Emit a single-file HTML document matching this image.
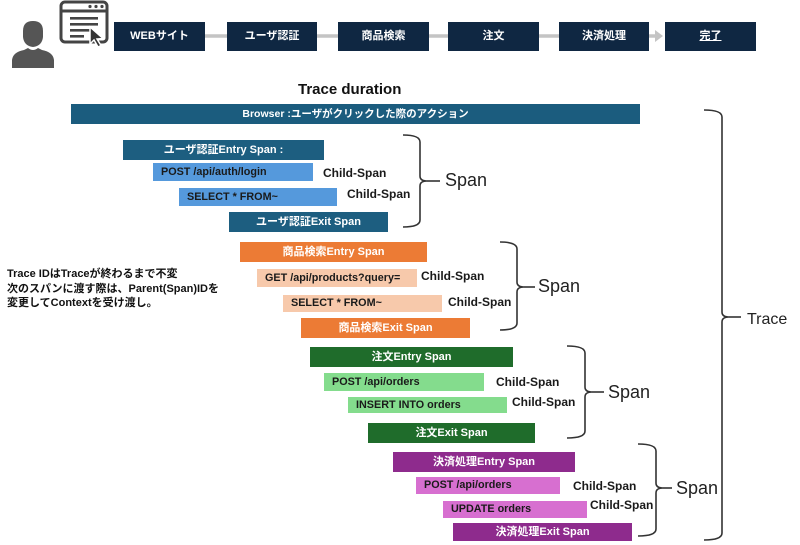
<!DOCTYPE html>
<html><head><meta charset="utf-8">
<style>
html,body{margin:0;padding:0;background:#fff;}
body{width:800px;height:545px;position:relative;overflow:hidden;font-family:"Liberation Sans","Noto Sans CJK JP",sans-serif;}
.b{position:absolute;box-sizing:border-box;font-weight:bold;font-size:11px;line-height:1;display:flex;align-items:center;white-space:nowrap;}
.c{justify-content:center;color:#fff;}
.l{padding-left:8px;color:#1a1a1a;font-size:10.8px;}
.top{background:#0f2742;color:#fff;justify-content:center;font-size:11px;}
.lab{position:absolute;font-weight:bold;font-size:12px;color:#1a1a1a;white-space:nowrap;line-height:1;}
.sp{position:absolute;font-size:18px;color:#222;line-height:1;white-space:nowrap;}
</style></head><body>

<svg width="800" height="545" style="position:absolute;left:0;top:0" xmlns="http://www.w3.org/2000/svg">
  <!-- person -->
  <g fill="#555">
    <path d="M23 31 Q23 21 33 21 Q43 21 43 31 L43 37 Q42 46 33 47 Q24 46 23 37 Z"/>
    <path d="M12 68 L12 60 Q13 52 24 50 L28 48 Q33 52 38 48 L42 50 Q53 52 54 60 L54 68 Z"/>
  </g>
  <!-- browser icon -->
  <g fill="none" stroke="#444" stroke-width="3">
    <rect x="61" y="2" width="46" height="40" rx="4"/>
    <line x1="61" y1="11" x2="107" y2="11"/>
  </g>
  <g fill="#444">
    <circle cx="90" cy="6.5" r="1.6"/><circle cx="96" cy="6.5" r="1.6"/><circle cx="102" cy="6.5" r="1.6"/>
    <rect x="70" y="17" width="28" height="2.6"/>
    <rect x="70" y="23" width="28" height="2.6"/>
    <rect x="70" y="29" width="20" height="2.6"/>
    <rect x="70" y="35" width="14" height="2.6"/>
  </g>
  <path d="M90 27 L90 44 L94 40 L98 47 L101 45.5 L97 39 L103 38.5 Z" fill="#333" stroke="#fff" stroke-width="1.5"/>
  <!-- connectors -->
  <g stroke="#c4c4c4" stroke-width="3.5">
    <line x1="205" y1="36" x2="227" y2="36"/>
    <line x1="317" y1="36" x2="338" y2="36"/>
    <line x1="429" y1="36" x2="448" y2="36"/>
    <line x1="539" y1="36" x2="559" y2="36"/>
    <line x1="649" y1="36" x2="656" y2="36"/>
  </g>
  <path d="M655 30 L663 36 L655 42 Z" fill="#c4c4c4"/>
  <!-- brackets -->
  <g fill="none" stroke="#333" stroke-width="1.6">
    <path d="M403 135 Q420 135 420 142 L420 176 Q420 181 427 181 Q420 181 420 186 L420 220 Q420 227 403 227"/>
    <line x1="427" y1="181" x2="440" y2="181"/>
    <path d="M500 242 Q517 242 517 249 L517 282 Q517 287 524 287 Q517 287 517 292 L517 323 Q517 330 500 330"/>
    <line x1="524" y1="287" x2="535" y2="287"/>
    <path d="M567 346 Q585 346 585 353 L585 387 Q585 392 592 392 Q585 392 585 397 L585 431 Q585 438 567 438"/>
    <line x1="592" y1="392" x2="604" y2="392"/>
    <path d="M638 444 Q656 444 656 451 L656 483 Q656 488 663 488 Q656 488 656 493 L656 529 Q656 536 638 536"/>
    <line x1="663" y1="488" x2="672" y2="488"/>
    <path d="M704 110 Q722 110 722 117 L722 312 Q722 317 729 317 Q722 317 722 322 L722 533 Q722 540 704 540"/>
    <line x1="729" y1="317" x2="741" y2="317"/>
  </g>
</svg>

<!-- top flow -->
<div class="b top" style="left:114px;top:22px;width:91px;height:29px;">WEBサイト</div>
<div class="b top" style="left:227px;top:22px;width:90px;height:29px;">ユーザ認証</div>
<div class="b top" style="left:338px;top:22px;width:91px;height:29px;">商品検索</div>
<div class="b top" style="left:448px;top:22px;width:91px;height:29px;">注文</div>
<div class="b top" style="left:559px;top:22px;width:90px;height:29px;">決済処理</div>
<div class="b top" style="left:665px;top:22px;width:91px;height:29px;"><span style="text-decoration:underline">完了</span></div>

<div style="position:absolute;left:298px;top:81px;font-weight:bold;font-size:15px;color:#111;white-space:nowrap;">Trace duration</div>

<div class="b c" style="left:71px;top:104px;width:569px;height:20px;background:#1b5c7e;font-size:10.5px;">Browser :ユーザがクリックした際のアクション</div>

<!-- span 1 -->
<div class="b c" style="left:123px;top:140px;width:201px;height:20px;background:#1d5e80;">ユーザ認証Entry Span :</div>
<div class="b l" style="left:153px;top:163px;width:160px;height:18px;background:#5599dc;">POST /api/auth/login</div>
<div class="lab" style="left:323px;top:167px;">Child-Span</div>
<div class="b l" style="left:179px;top:188px;width:158px;height:18px;background:#5599dc;">SELECT * FROM~</div>
<div class="lab" style="left:347px;top:188px;">Child-Span</div>
<div class="b c" style="left:229px;top:212px;width:159px;height:20px;background:#1d5e80;">ユーザ認証Exit Span</div>
<div class="sp" style="left:445px;top:171px;">Span</div>

<!-- side text -->
<div style="position:absolute;left:7px;top:267px;font-weight:bold;font-size:11px;line-height:14.5px;color:#111;white-space:nowrap;">Trace IDはTraceが終わるまで不変<br>次のスパンに渡す際は、Parent(Span)IDを<br>変更してContextを受け渡し。</div>

<!-- span 2 -->
<div class="b c" style="left:240px;top:242px;width:187px;height:20px;background:#ec7b35;">商品検索Entry Span</div>
<div class="b l" style="left:257px;top:269px;width:160px;height:18px;background:#f7c9ab;">GET /api/products?query=</div>
<div class="lab" style="left:421px;top:270px;">Child-Span</div>
<div class="b l" style="left:283px;top:295px;width:159px;height:17px;background:#f7c9ab;">SELECT * FROM~</div>
<div class="lab" style="left:448px;top:296px;">Child-Span</div>
<div class="b c" style="left:301px;top:318px;width:169px;height:20px;background:#ec7b35;">商品検索Exit Span</div>
<div class="sp" style="left:538px;top:277px;">Span</div>

<!-- span 3 -->
<div class="b c" style="left:310px;top:347px;width:203px;height:20px;background:#1f6c2b;">注文Entry Span</div>
<div class="b l" style="left:324px;top:373px;width:160px;height:18px;background:#84dc8d;">POST /api/orders</div>
<div class="lab" style="left:496px;top:376px;">Child-Span</div>
<div class="b l" style="left:348px;top:397px;width:159px;height:16px;background:#84dc8d;">INSERT INTO orders</div>
<div class="lab" style="left:512px;top:396px;">Child-Span</div>
<div class="b c" style="left:368px;top:423px;width:167px;height:20px;background:#1f6c2b;">注文Exit Span</div>
<div class="sp" style="left:608px;top:383px;">Span</div>

<!-- span 4 -->
<div class="b c" style="left:393px;top:452px;width:182px;height:20px;background:#8e2b8d;">決済処理Entry Span</div>
<div class="b l" style="left:416px;top:477px;width:144px;height:17px;background:#d76fd0;">POST /api/orders</div>
<div class="lab" style="left:573px;top:480px;">Child-Span</div>
<div class="b l" style="left:443px;top:501px;width:144px;height:17px;background:#d76fd0;">UPDATE orders</div>
<div class="lab" style="left:590px;top:499px;">Child-Span</div>
<div class="b c" style="left:453px;top:523px;width:179px;height:18px;background:#8e2b8d;">決済処理Exit Span</div>
<div class="sp" style="left:676px;top:479px;">Span</div>

<div class="sp" style="left:747px;top:312px;font-size:16px;">Trace</div>

</body></html>
